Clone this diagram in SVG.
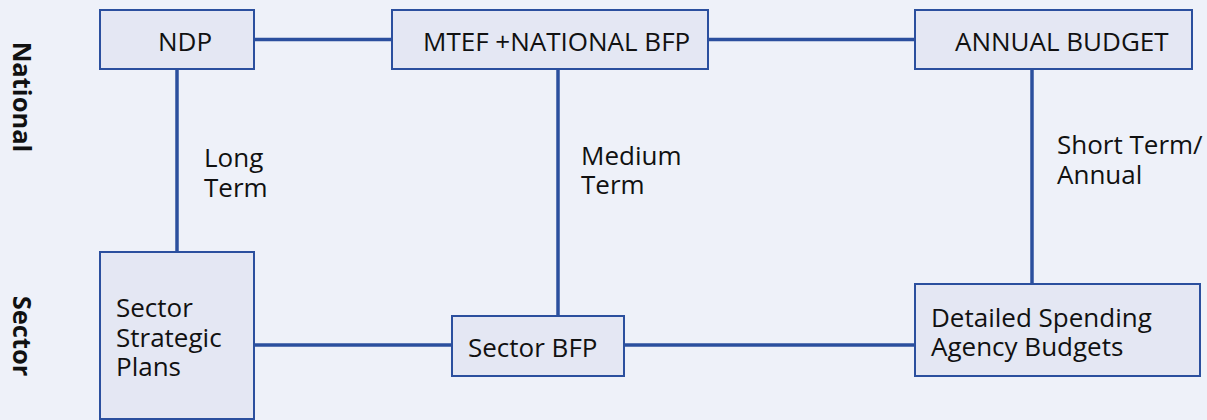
<svg xmlns="http://www.w3.org/2000/svg" width="1207" height="420" viewBox="0 0 1207 420">
  <style>
    .box { fill: #e4e7f3; stroke: #2b4f9e; stroke-width: 2; }
    .link { stroke: #2b4f9e; stroke-width: 3.5; fill: none; }
    .t { font-family: "Open Sans", "Noto Sans", sans-serif; font-size: 26px; fill: #111111; }
    .side { font-family: "Open Sans", "Noto Sans", sans-serif; font-size: 25.5px; font-weight: bold; fill: #111111; }
  </style>
  <rect x="0" y="0" width="1207" height="420" fill="#eef1f9"/>

  <!-- connectors -->
  <g id="connectors">
    <line class="link" x1="254" y1="39.5" x2="392" y2="39.5"/>
    <line class="link" x1="708" y1="39.5" x2="915" y2="39.5"/>
    <line class="link" x1="177" y1="69" x2="177" y2="252"/>
    <line class="link" x1="558" y1="69" x2="558" y2="316"/>
    <line class="link" x1="1032" y1="69" x2="1032" y2="284"/>
    <line class="link" x1="254" y1="345" x2="452" y2="345"/>
    <line class="link" x1="624" y1="345" x2="915" y2="345"/>
  </g>

  <!-- connector labels -->
  <g id="labels">
    <text class="t" x="204" y="167"><tspan x="204">Long</tspan><tspan x="204" dy="30">Term</tspan></text>
    <text class="t" x="581" y="165"><tspan x="581">Medium</tspan><tspan x="581" dy="29">Term</tspan></text>
    <text class="t" x="1057" y="154"><tspan x="1057">Short Term/</tspan><tspan x="1057" dy="30">Annual</tspan></text>
  </g>

  <!-- level labels -->
  <g id="level-national">
    <text class="side" transform="translate(22,97) rotate(90)" text-anchor="middle" dy="0.36em">National</text>
  </g>
  <g id="level-sector">
    <text class="side" transform="translate(22,336) rotate(90)" text-anchor="middle" dy="0.36em">Sector</text>
  </g>

  <!-- national row -->
  <g id="ndp">
    <rect class="box" x="100" y="10" width="154" height="59"/>
    <text class="t" x="185" y="51" text-anchor="middle">NDP</text>
  </g>
  <g id="mtef">
    <rect class="box" x="392" y="10" width="316" height="59"/>
    <text class="t" x="423" y="51">MTEF +NATIONAL BFP</text>
  </g>
  <g id="annual-budget">
    <rect class="box" x="915" y="10" width="277" height="59"/>
    <text class="t" x="955" y="51">ANNUAL BUDGET</text>
  </g>

  <!-- sector row -->
  <g id="sector-strategic-plans">
    <rect class="box" x="100" y="252" width="154" height="167"/>
    <text class="t" x="116" y="317"><tspan x="116">Sector</tspan><tspan x="116" dy="29.5">Strategic</tspan><tspan x="116" dy="29.5">Plans</tspan></text>
  </g>
  <g id="sector-bfp">
    <rect class="box" x="452" y="316" width="172" height="60"/>
    <text class="t" x="468" y="357">Sector BFP</text>
  </g>
  <g id="spending-agency-budgets">
    <rect class="box" x="915" y="284" width="285" height="92"/>
    <text class="t" x="931" y="327"><tspan x="931">Detailed Spending</tspan><tspan x="931" dy="29">Agency Budgets</tspan></text>
  </g>
</svg>
